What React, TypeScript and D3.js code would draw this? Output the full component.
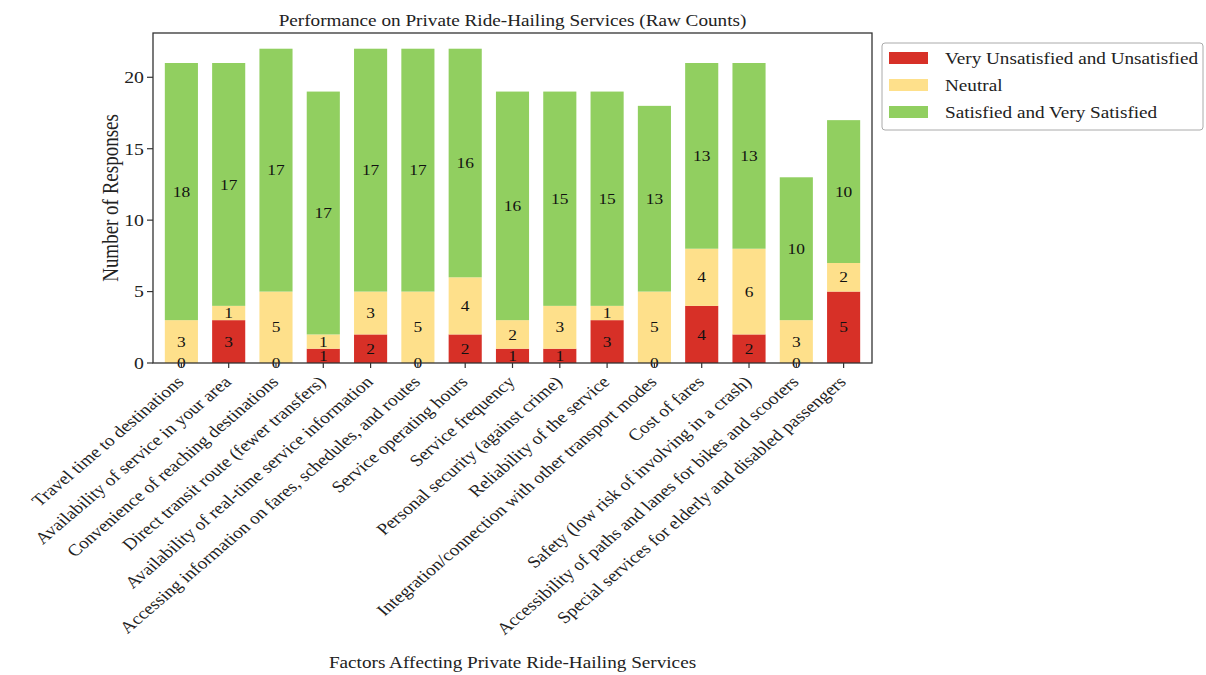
import React from "react";
import * as d3 from "d3";

const categories = [
  "Travel time to destinations",
  "Availability of service in your area",
  "Convenience of reaching destinations",
  "Direct transit route (fewer transfers)",
  "Availability of real-time service information",
  "Accessing information on fares, schedules, and routes",
  "Service operating hours",
  "Service frequency",
  "Personal security (against crime)",
  "Reliability of the service",
  "Integration/connection with other transport modes",
  "Cost of fares",
  "Safety (low risk of involving in a crash)",
  "Accessibility of paths and lanes for bikes and scooters",
  "Special services for elderly and disabled passengers",
];

const unsatisfied = [0, 3, 0, 1, 2, 0, 2, 1, 1, 3, 0, 4, 2, 0, 5];
const neutral = [3, 1, 5, 1, 3, 5, 4, 2, 3, 1, 5, 4, 6, 3, 2];
const satisfied = [18, 17, 17, 17, 17, 17, 16, 16, 15, 15, 13, 13, 13, 10, 10];

const seriesNames = [
  "Very Unsatisfied and Unsatisfied",
  "Neutral",
  "Satisfied and Very Satisfied",
];
const seriesColors = ["#d73027", "#fee08b", "#91cf60"];
const yTicks = [0, 5, 10, 15, 20];

const title = "Performance on Private Ride-Hailing Services (Raw Counts)";
const xLabel = "Factors Affecting Private Ride-Hailing Services";
const yLabel = "Number of Responses";

const W = 1206;
const H = 675;
const SX = 1.2; // horizontal stretch of glyphs
const SXR = 1.17; // stretch for rotated tick labels
const FONT = "'Liberation Serif', 'Times New Roman', serif";

export default function App() {
  const left = 153;
  const right = 872;
  const top = 33;
  const bottom = 363;

  const x = d3.scaleLinear().domain([-0.6, categories.length - 1 + 0.6]).range([left, right]);
  const y = d3.scaleLinear().domain([0, 23.1]).range([bottom, top]);
  const barW = x(0.35) - x(-0.35);

  const rows = categories.map((c, i) => ({ c, u: unsatisfied[i], n: neutral[i], s: satisfied[i] }));
  const stack = d3.stack<any>().keys(["u", "n", "s"])(rows as any);

  const T = (tx: number, ty: number, rot = 0, sx = SX) =>
    `translate(${tx},${ty}) scale(${sx},1)` + (rot ? ` rotate(${rot})` : "");

  return (
    <svg width={W} height={H} style={{ position: "absolute", left: 0, top: 0, background: "#fff" }} fontFamily={FONT}>
      <rect x={0} y={0} width={W} height={H} fill="#fff" />
      {/* bars */}
      {stack.map((layer, si) => (
        <g key={si}>
          {layer.map((d, i) => (
            <rect
              key={i}
              x={x(i) - barW / 2}
              y={y(d[1])}
              width={barW}
              height={y(d[0]) - y(d[1])}
              fill={seriesColors[si]}
            />
          ))}
        </g>
      ))}
      {/* value labels */}
      {stack.map((layer, si) => (
        <g key={"l" + si}>
          {layer.map((d, i) => (
            <text
              key={i}
              transform={T(x(i), y((d[0] + d[1]) / 2))}
              textAnchor="middle"
              dy="0.35em"
              fontSize={14.5}
              fill="#111"
            >
              {d[1] - d[0]}
            </text>
          ))}
        </g>
      ))}
      {/* spines */}
      <rect x={left} y={top} width={right - left} height={bottom - top} fill="none" stroke="#333" strokeWidth={1.3} />
      {/* y ticks */}
      {yTicks.map((t) => (
        <g key={t}>
          <line x1={left - 6} x2={left} y1={y(t)} y2={y(t)} stroke="#333" strokeWidth={1.2} />
          <text transform={T(left - 9, y(t))} textAnchor="end" dy="0.35em" fontSize={16.5} fill="#222">
            {t}
          </text>
        </g>
      ))}
      {/* x ticks */}
      {categories.map((c, i) => (
        <g key={c}>
          <line x1={x(i)} x2={x(i)} y1={bottom} y2={bottom + 5} stroke="#333" strokeWidth={1.2} />
          <text transform={T(x(i) + 3.5, bottom + 20, -45, SXR)} textAnchor="end" fontSize={16.5} fill="#222">
            {c}
          </text>
        </g>
      ))}
      {/* title & axis labels */}
      <text transform={T((left + right) / 2, 26)} textAnchor="middle" fontSize={16} fill="#222">
        {title}
      </text>
      <text transform={T((left + right) / 2, 668)} textAnchor="middle" fontSize={16} fill="#222">
        {xLabel}
      </text>
      <text transform={T(118, (top + bottom) / 2, -90)} textAnchor="middle" fontSize={19} fill="#222">
        {yLabel}
      </text>
      {/* legend */}
      <rect x={882} y={43} width={321} height={87} rx={3} fill="#fff" stroke="#aaa" strokeWidth={1} />
      {seriesNames.map((s, i) => (
        <g key={s}>
          <rect x={889} y={52 + i * 27} width={39} height={12} fill={seriesColors[i]} />
          <text transform={T(945, 58 + i * 27)} dy="0.35em" fontSize={16} fill="#222">
            {s}
          </text>
        </g>
      ))}
    </svg>
  );
}
